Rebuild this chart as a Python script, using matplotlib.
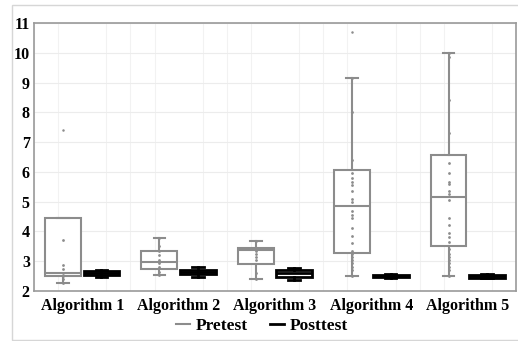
import matplotlib
matplotlib.use("Agg")
import matplotlib.pyplot as plt
from matplotlib.patches import Rectangle
from matplotlib.lines import Line2D
import numpy as np

categories = ["Algorithm 1", "Algorithm 2", "Algorithm 3", "Algorithm 4", "Algorithm 5"]
y_ticks = [2, 3, 4, 5, 6, 7, 8, 9, 10, 11]

# Pretest box statistics
pre_q1 = [2.50, 2.75, 2.90, 3.29, 3.52]
pre_med = [2.61, 2.96, 3.38, 4.84, 5.15]
pre_q3 = [4.45, 3.34, 3.44, 6.07, 6.57]
pre_lo = [2.27, 2.53, 2.41, 2.50, 2.51]
pre_hi = [4.45, 3.79, 3.69, 9.15, 9.99]
pre_fliers = [[7.42], [], [], [10.71], []]

# Posttest box statistics
post_q1 = [2.55, 2.58, 2.46, 2.47, 2.45]
post_med = [2.60, 2.65, 2.60, 2.50, 2.50]
post_q3 = [2.67, 2.72, 2.70, 2.53, 2.55]
post_lo = [2.47, 2.47, 2.37, 2.45, 2.42]
post_hi = [2.72, 2.82, 2.78, 2.56, 2.57]

# Pretest individual points
pre_points_1 = [3.72, 2.88, 2.75, 2.6, 2.5, 2.4, 2.27]
pre_points_2 = [3.79, 3.5, 3.35, 3.2, 3.05, 2.95, 2.8, 2.65, 2.53]
pre_points_3 = [3.69, 3.45, 3.35, 3.25, 3.15, 3.05, 2.6, 2.41]
pre_points_4 = [9.15, 8.0, 6.4, 5.95, 5.8, 5.65, 5.55, 5.35, 5.1, 5.0, 4.7, 4.55,
                4.45, 4.1, 3.85, 3.6, 3.35, 3.25, 3.15, 3.05, 2.95, 2.8, 2.7, 2.5]
pre_points_5 = [10.0, 9.85, 8.4, 7.3, 6.3, 5.95, 5.65, 5.6, 5.35, 5.25, 5.05, 4.45,
                4.2, 3.95, 3.8, 3.65, 3.4, 3.25, 3.15, 3.05, 2.95, 2.8, 2.7, 2.5]
pre_points = [pre_points_1, pre_points_2, pre_points_3, pre_points_4, pre_points_5]

GRAY = "#8c8c8c"
SERIF = ["Liberation Serif", "DejaVu Serif"]

fig = plt.figure(figsize=(5.18, 3.41), dpi=100)
fig.patches.append(Rectangle((12 / 518, 1 / 341), 1.0, 335 / 341, transform=fig.transFigure,
                             fill=False, edgecolor="#d6d6d6", linewidth=1.0, zorder=0))
ax = fig.add_axes([34 / 518, 50 / 341, 482 / 518, 268 / 341])

x = np.arange(len(categories))
off = 0.2
w = 0.37

def make_stats(q1, med, q3, lo, hi, fl):
    return [dict(q1=a, med=b, q3=c, whislo=d, whishi=e, fliers=f)
            for a, b, c, d, e, f in zip(q1, med, q3, lo, hi, fl)]

pre_stats = make_stats(pre_q1, pre_med, pre_q3, pre_lo, pre_hi, pre_fliers)
post_stats = make_stats(post_q1, post_med, post_q3, post_lo, post_hi, [[] for _ in categories])

ax.bxp(pre_stats, positions=x - off, widths=w, patch_artist=True, capwidths=0.12,
       boxprops=dict(facecolor="white", edgecolor=GRAY, linewidth=1.5),
       medianprops=dict(color=GRAY, linewidth=1.5),
       whiskerprops=dict(color=GRAY, linewidth=1.5),
       capprops=dict(color=GRAY, linewidth=1.5),
       flierprops=dict(marker="o", markersize=1.8, markerfacecolor=GRAY,
                       markeredgecolor=GRAY, markeredgewidth=0), manage_ticks=False, zorder=3)
ax.bxp(post_stats, positions=x + off, widths=w, patch_artist=True, capwidths=0.12,
       boxprops=dict(facecolor="white", edgecolor="black", linewidth=2.0),
       medianprops=dict(color="black", linewidth=2.0),
       whiskerprops=dict(color="black", linewidth=2.0),
       capprops=dict(color="black", linewidth=2.0),
       manage_ticks=False, zorder=3)

for xi, pts in zip(x, pre_points):
    ax.scatter(np.full(len(pts), xi - off), pts, s=4, color=GRAY, zorder=4, linewidths=0)

ax.set_xlim(-0.5, 4.5)
ax.set_ylim(2, 11)
ax.set_yticks(y_ticks)
ax.set_yticklabels([str(t) for t in y_ticks])
ax.set_xticks(x)
ax.set_xticklabels(categories)
ax.tick_params(axis="y", length=0, pad=3)
ax.tick_params(axis="x", length=0, pad=5)
for lab in ax.get_xticklabels() + ax.get_yticklabels():
    lab.set_family(SERIF)
    lab.set_fontweight("bold")
    lab.set_fontsize(11.5)

ax.set_xticks(np.arange(-0.5, 4.51, 0.25), minor=True)
ax.grid(True, which="major", axis="y", color="#ececec", linewidth=0.8, zorder=0)
ax.grid(True, which="minor", axis="x", color="#f2f2f2", linewidth=0.8, zorder=0)
ax.tick_params(which="minor", length=0)
ax.set_axisbelow(True)
for s in ax.spines.values():
    s.set_color("#9a9a9a")
    s.set_linewidth(1.2)

handles = [Line2D([], [], color=GRAY, linewidth=1.5),
           Line2D([], [], color="black", linewidth=2.0)]
fig.legend(handles, ["Pretest", "Posttest"], loc="center", bbox_to_anchor=(262 / 518, 15 / 341),
           ncol=2, frameon=False, handlelength=0.8, handletextpad=0.3, columnspacing=1.3,
           prop=dict(family=SERIF, weight="bold", size=12.5))

fig.savefig("out.png", dpi=100)
